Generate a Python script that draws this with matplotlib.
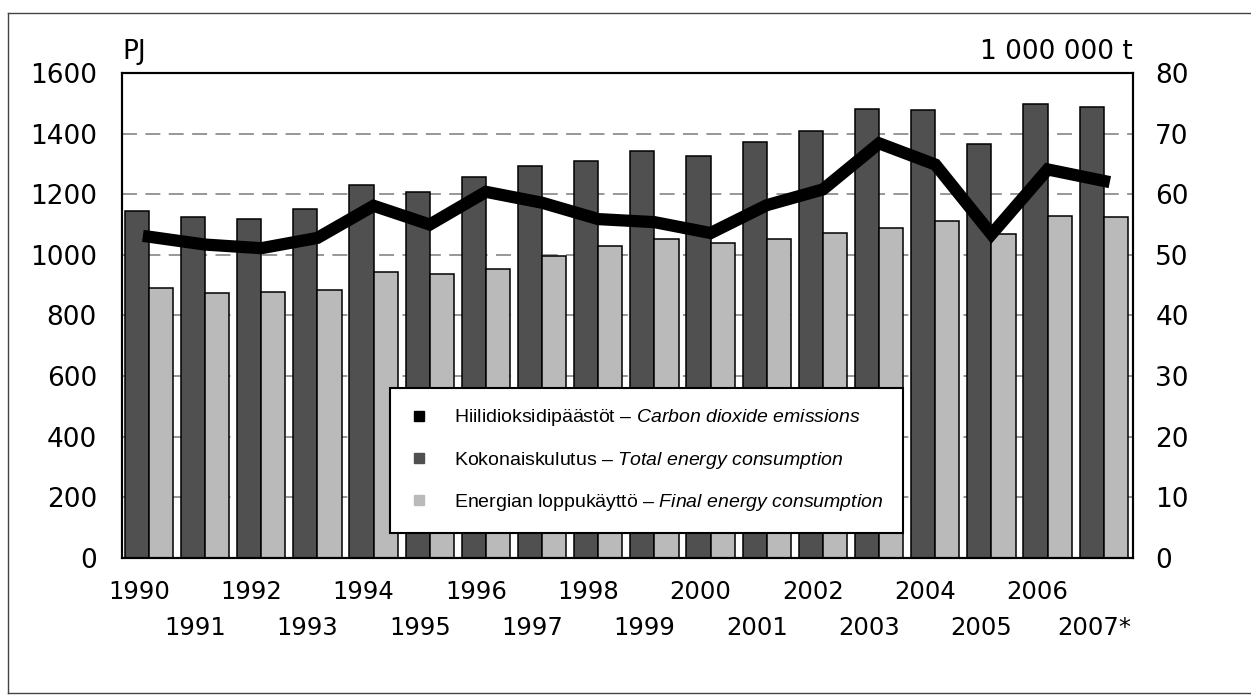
import matplotlib
matplotlib.use('Agg')
import matplotlib.pyplot as plt
import matplotlib.transforms as mtransforms
from matplotlib.lines import Line2D
import numpy as np

# energy use (PJ) and CO2 emissions (million tonnes)
years = [str(y) for y in range(1990, 2007)] + ['2007*']
total_energy = [1145, 1126, 1117, 1152, 1232, 1208, 1257, 1292, 1310,
                1344, 1326, 1371, 1408, 1481, 1477, 1367, 1497, 1487]
final_energy = [890, 873, 876, 885, 944, 936, 953, 997, 1030,
                1052, 1038, 1051, 1071, 1089, 1111, 1068, 1128, 1125]
co2 = [53.0, 51.7, 51.1, 52.8, 58.1, 55.0, 60.4, 58.6, 55.9,
       55.4, 53.6, 58.2, 60.8, 68.4, 64.9, 53.4, 64.1, 62.2]

legend_labels = [
    'Hiilidioksidipäästöt – $\\mathit{Carbon\\ dioxide\\ emissions}$',
    'Kokonaiskulutus – $\\mathit{Total\\ energy\\ consumption}$',
    'Energian loppukäyttö – $\\mathit{Final\\ energy\\ consumption}$',
]

plt.rcParams['font.family'] = 'DejaVu Sans'
plt.rcParams['mathtext.fontset'] = 'custom'
plt.rcParams['mathtext.rm'] = 'Liberation Sans'
plt.rcParams['mathtext.it'] = 'Liberation Sans:italic'

dark = '#505050'
light = '#bababa'

fig = plt.figure(figsize=(12.51, 6.96), dpi=100)
ax = fig.add_axes([0.0975, 0.1983, 0.8082, 0.6968])

x = np.arange(len(years))
w = 0.43
ax.bar(x - w / 2, total_energy, w, color=dark, edgecolor='black', linewidth=1.1, zorder=2)
ax.bar(x + w / 2, final_energy, w, color=light, edgecolor='black', linewidth=1.1, zorder=2)

ax.set_xlim(-0.48, 17.52)
ax.set_ylim(0, 1600)
ax.set_yticks(range(0, 1601, 200))
for v in range(200, 1600, 200):
    ax.axhline(v, color='#7a7a7a', lw=1.1, ls=(0, (9.8, 5.5)), zorder=1)

ax.tick_params(axis='y', length=0, pad=18, labelsize=19)

# staggered year labels
ax.set_xticks(x[::2], years[::2])
ax.set_xticks(x[1::2], years[1::2], minor=True)
ax.tick_params(axis='x', which='both', length=0, labelsize=17.5)
ax.tick_params(axis='x', which='major', pad=16)
ax.tick_params(axis='x', which='minor', pad=42)
shift = mtransforms.ScaledTranslation(-0.1, 0, fig.dpi_scale_trans)
for lbl in ax.get_xticklabels(which='both'):
    lbl.set_transform(lbl.get_transform() + shift)

for s in ax.spines.values():
    s.set_linewidth(1.5)
    s.set_color('black')

ax2 = ax.twinx()
ax2.set_ylim(0, 80)
ax2.set_yticks(range(0, 81, 10))
ax2.tick_params(axis='y', length=0, pad=16, labelsize=19)
ax2.plot(x, co2, color='black', lw=8.8, solid_capstyle='projecting',
         solid_joinstyle='miter', zorder=3)
for s in ax2.spines.values():
    s.set_linewidth(1.5)

ax.annotate('PJ', xy=(0, 1), xycoords='axes fraction', xytext=(0, 10),
            textcoords='offset points', ha='left', va='baseline', fontsize=19)
ax.annotate('1 000 000 t', xy=(1, 1), xycoords='axes fraction', xytext=(0, 10),
            textcoords='offset points', ha='right', va='baseline', fontsize=19)

handles = [
    Line2D([], [], ls='none', marker='s', ms=7.5, mfc='black', mec='black'),
    Line2D([], [], ls='none', marker='s', ms=7.5, mfc=dark, mec=dark),
    Line2D([], [], ls='none', marker='s', ms=7.5, mfc=light, mec=light),
]
leg = ax2.legend(handles, legend_labels, loc='upper left',
                 bbox_to_anchor=(390 / 1251, 1 - 388 / 696), bbox_transform=fig.transFigure,
                 frameon=True, fancybox=False, framealpha=1, edgecolor='black',
                 prop={'family': 'Liberation Sans', 'size': 14},
                 borderpad=1.0, labelspacing=1.1, handlelength=1.0,
                 handletextpad=1.3, borderaxespad=0)
leg.get_frame().set_linewidth(1.5)
leg.set_zorder(5)

# outer frame
for xs, ys in [((8 / 1251, 1.0), (1 - 13 / 696, 1 - 13 / 696)),
               ((8 / 1251, 8 / 1251), (1 - 13 / 696, 3 / 696)),
               ((8 / 1251, 1.0), (3 / 696, 3 / 696))]:
    fig.add_artist(Line2D(xs, ys, color='#444444', lw=1.0))

fig.savefig('out.png', dpi=100)
